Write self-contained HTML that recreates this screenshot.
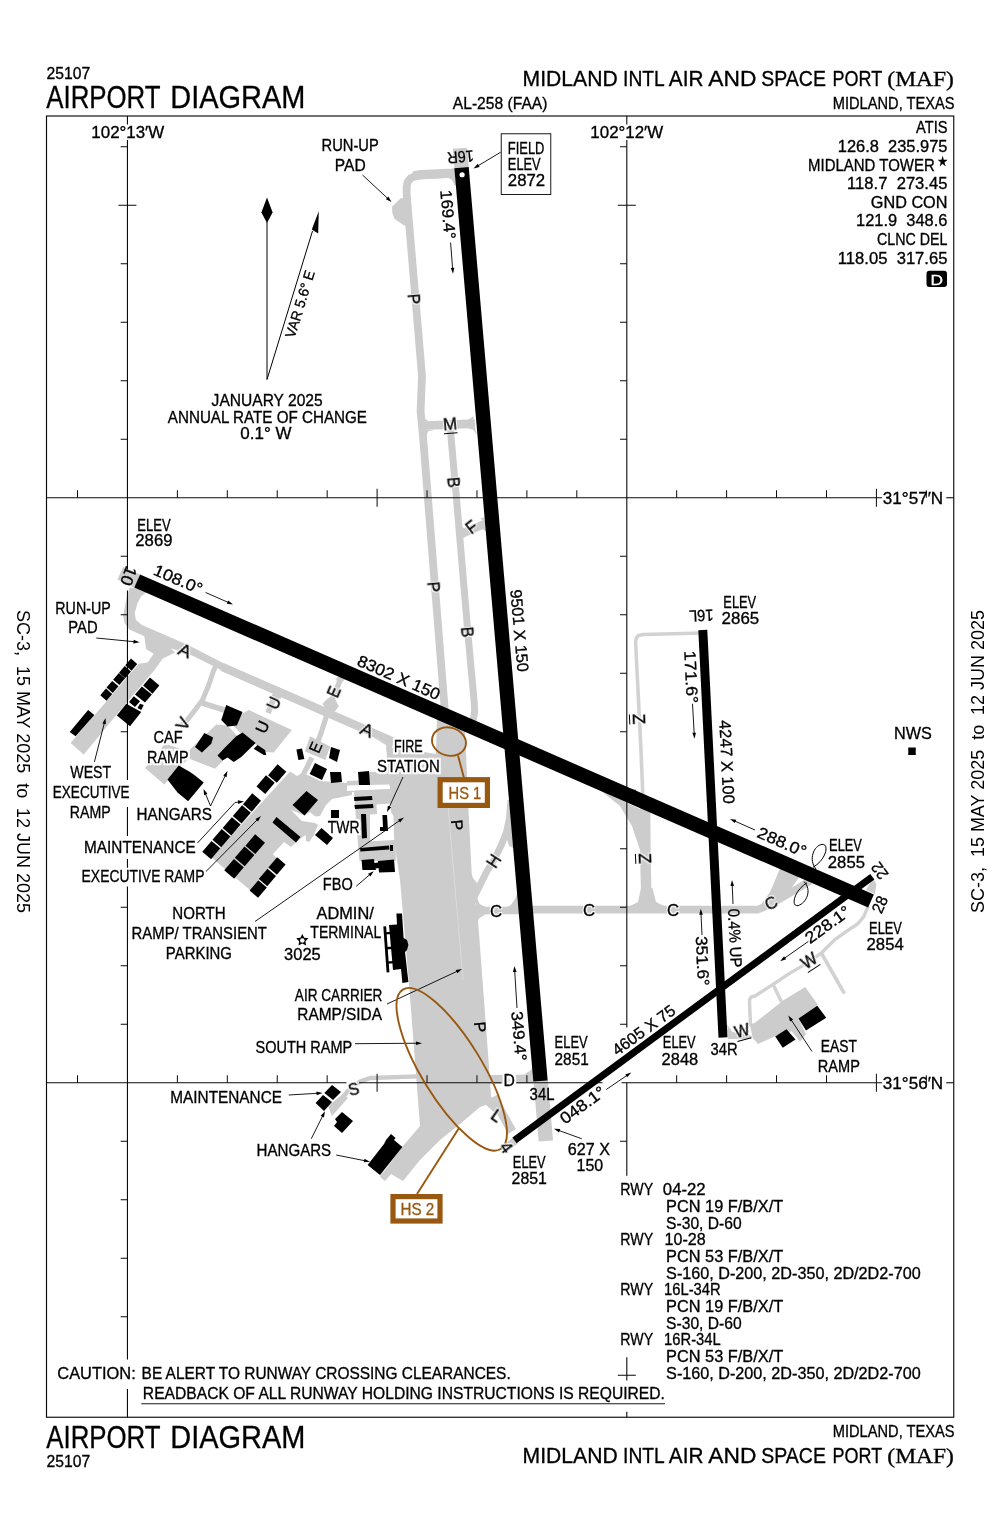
<!DOCTYPE html>
<html lang="en"><head><meta charset="utf-8"><title>MIDLAND INTL AIR AND SPACE PORT (MAF) - AIRPORT DIAGRAM</title>
<style>
html,body{margin:0;padding:0;background:#fff}
body{width:1000px;height:1533px;overflow:hidden}
svg{display:block;font-family:"Liberation Sans",sans-serif;will-change:transform}
text{white-space:pre}
</style></head><body>
<svg width="1000" height="1533" viewBox="0 0 1000 1533">
<defs>
<filter id="h3" color-interpolation-filters="sRGB" x="-30%" y="-40%" width="160%" height="180%"><feMorphology in="SourceAlpha" operator="dilate" radius="1.5" result="d"/><feFlood flood-color="#fff"/><feComposite in2="d" operator="in" result="w"/><feMerge><feMergeNode in="w"/><feMergeNode in="SourceGraphic"/></feMerge></filter>
<filter id="h2" color-interpolation-filters="sRGB" x="-60%" y="-60%" width="220%" height="220%"><feMorphology in="SourceAlpha" operator="dilate" radius="1.1" result="d"/><feFlood flood-color="#fff"/><feComposite in2="d" operator="in" result="w"/><feMerge><feMergeNode in="w"/><feMergeNode in="SourceGraphic"/></feMerge></filter>
</defs>
<rect width="1000" height="1533" fill="#fff"/>
<g id="grey">
<polygon points="452.82,148.87 454.37,168.37 468.73,167.23 467.18,147.73" fill="#cccccc"/>
<polygon points="123.12,566.88 140.25,574.62 134.62,587.75 117.50,579.38" fill="#cccccc"/>
<polygon points="533.53,1081.62 538.73,1141.62 553.07,1140.38 547.87,1080.38" fill="#cccccc"/>
<polygon points="501.50,1146.50 505.00,1153.00 518.00,1143.50 513.00,1137.50" fill="#cccccc"/>
<polygon points="873.00,878.00 876.30,884.00 875.00,894.00 866.00,890.00" fill="#cccccc"/>
<polyline points="456.00,173.60 422.00,175.30 415.00,176.20 410.50,178.30 407.60,182.00 406.60,187.00 406.70,195.00 422.00,376.00 420.60,411.00 423.30,440.00 446.78,735.00" fill="none" stroke="#cccccc" stroke-width="7.8" stroke-linejoin="round" stroke-linecap="butt"/>
<polyline points="456.00,173.00 420.00,174.70 413.50,176.00" fill="none" stroke="#cccccc" stroke-width="9.2" stroke-linejoin="round" stroke-linecap="butt"/>
<polygon points="392.12,206.50 400.62,198.25 406.88,198.12 407.50,226.25 403.75,225.25 394.50,219.00 392.12,211.88" fill="#cccccc"/>
<polygon points="455.00,168.12 450.00,169.38 449.38,178.75 451.88,179.75 454.75,185.62 456.25,186.25" fill="#cccccc"/>
<polyline points="421.50,425.70 475.00,423.60" fill="none" stroke="#cccccc" stroke-width="8.6" stroke-linejoin="round" stroke-linecap="butt"/>
<polygon points="423.12,417.50 424.00,421.25 428.75,421.25" fill="#cccccc"/>
<polygon points="426.25,436.25 428.12,431.25 433.75,430.00 425.00,429.38" fill="#cccccc"/>
<polygon points="467.50,420.25 473.12,419.75 473.50,416.25" fill="#cccccc"/>
<polygon points="467.50,428.75 473.12,429.38 476.88,435.00 475.00,427.50" fill="#cccccc"/>
<polyline points="450.40,430.00 456.60,500.00 468.50,640.00 474.30,703.00 474.60,712.00 473.20,720.00 470.00,727.00" fill="none" stroke="#cccccc" stroke-width="7.0" stroke-linejoin="round" stroke-linecap="butt"/>
<polyline points="461.00,534.30 486.00,523.30" fill="none" stroke="#cccccc" stroke-width="8.2" stroke-linejoin="round" stroke-linecap="butt"/>
<polygon points="460.88,525.00 460.88,531.25 465.00,529.38" fill="#cccccc"/>
<polygon points="463.12,540.00 463.75,536.25 470.00,533.12 463.75,533.75" fill="#cccccc"/>
<polygon points="480.00,518.75 484.38,516.88 484.00,520.62" fill="#cccccc"/>
<polygon points="480.00,528.12 486.25,531.25 485.00,525.00" fill="#cccccc"/>
<polygon points="129.38,587.75 137.50,587.75 146.50,592.00 141.25,596.25 137.50,603.12 134.75,613.12 135.88,620.00 141.88,625.00 150.00,628.50 187.50,644.75 225.00,664.00 226.25,672.50 190.00,654.38 170.00,648.12 155.00,654.38 146.00,649.00 144.38,636.25 129.38,629.62 124.38,622.75 123.25,615.00 125.38,603.75" fill="#cccccc"/>
<polyline points="222.00,666.95 300.00,700.82 420.00,753.23" fill="none" stroke="#cccccc" stroke-width="8.4" stroke-linejoin="round" stroke-linecap="butt"/>
<polygon points="374.00,738.00 386.00,745.00 388.00,760.00 388.50,776.00 392.00,776.00 392.00,745.00" fill="#cccccc"/>
<polygon points="70.62,743.12 83.75,754.38 128.75,700.00 155.00,669.38 162.50,658.75 175.00,652.50 167.50,645.00 153.75,653.75 147.50,662.50 138.75,663.75" fill="#cccccc"/>
<polyline points="216.25,665.62 213.75,670.00 208.75,685.00 202.50,700.00 195.00,710.00 186.25,721.25 180.00,726.25" fill="none" stroke="#cccccc" stroke-width="5.0" stroke-linejoin="round" stroke-linecap="butt"/>
<polyline points="202.50,703.12 225.00,710.25" fill="none" stroke="#cccccc" stroke-width="5.6" stroke-linejoin="round" stroke-linecap="butt"/>
<polygon points="211.25,662.50 215.62,668.12 221.25,666.88" fill="#cccccc"/>
<polygon points="145.00,768.12 164.38,784.38 181.88,764.38 189.38,758.75 215.00,768.75 226.25,757.50 237.50,736.25 227.50,725.62 216.25,724.38 188.12,751.25 165.00,743.75" fill="#cccccc"/>
<polyline points="276.25,691.88 268.12,713.12" fill="none" stroke="#cccccc" stroke-width="5.6" stroke-linejoin="round" stroke-linecap="butt"/>
<polygon points="271.25,688.75 273.75,695.00 270.00,698.75 281.25,698.75 279.75,693.75 282.50,693.75" fill="#cccccc"/>
<polygon points="248.75,710.00 291.88,730.00 273.75,752.50 265.00,751.88 255.00,743.75 240.00,732.50 232.50,725.00 237.50,716.25" fill="#cccccc"/>
<polyline points="341.25,677.50 330.00,705.00 321.25,732.50 317.50,742.50" fill="none" stroke="#cccccc" stroke-width="5.2" stroke-linejoin="round" stroke-linecap="butt"/>
<polyline points="311.88,757.50 303.75,773.75 300.00,778.75" fill="none" stroke="#cccccc" stroke-width="5.2" stroke-linejoin="round" stroke-linecap="butt"/>
<polygon points="310.00,736.25 330.25,746.50 325.25,760.00 305.00,751.50" fill="#cccccc"/>
<polygon points="322.50,703.75 327.50,698.75 333.12,695.00 338.75,706.25 335.00,711.25 327.50,712.50" fill="#cccccc"/>
<polygon points="336.25,677.50 346.25,677.50 340.00,685.00 337.50,687.50" fill="#cccccc"/>
<polygon points="290.00,771.50 297.00,776.00 302.00,773.00 310.00,776.00 320.00,781.00 346.00,783.00 352.00,783.00 352.00,795.00 332.00,799.00 326.00,805.00 320.00,816.00 315.00,816.50 310.00,812.00 304.50,815.50 291.00,810.00 302.00,821.00 315.00,823.00 318.00,825.00 314.00,835.00 309.00,842.00 306.00,841.00 305.50,835.00 300.00,839.00 292.00,846.00 291.00,847.00 284.00,842.00 273.00,854.00 277.00,858.50 250.00,890.00 211.50,857.50" fill="#cccccc"/>
<polygon points="369.00,772.00 390.00,771.50 390.00,785.00 347.00,786.00 347.00,781.00 358.00,780.50" fill="#cccccc"/>
<polygon points="347.00,790.50 390.00,789.00 394.00,812.00 396.00,861.00 359.50,861.00 357.50,838.00 354.00,792.00 347.00,792.40" fill="#cccccc"/>
<polygon points="437.00,716.00 465.00,729.00 466.30,760.00 468.00,800.00 472.00,880.00 478.00,920.00 484.00,1000.00 490.00,1080.00 491.00,1096.00 500.00,1116.00 494.00,1112.00 486.00,1105.00 480.00,1107.00 460.00,1124.00 440.00,1140.00 420.00,1160.00 403.00,1181.00 391.00,1174.00 385.00,1181.00 380.00,1177.00 403.00,1146.00 420.00,1126.00 416.00,1074.00 409.00,984.00 403.00,914.00 400.00,880.00 394.00,840.00 393.00,812.00 388.00,774.00 386.30,748.00 400.00,748.00 436.00,754.00" fill="#cccccc"/>
<polyline points="473.00,899.00 479.10,886.90 486.90,871.30 493.50,860.80 501.30,845.20 506.50,832.00 509.50,818.00 510.50,804.00" fill="none" stroke="#cccccc" stroke-width="6.8" stroke-linejoin="round" stroke-linecap="butt"/>
<polygon points="507.50,800.00 512.00,800.00 517.00,850.00 509.00,846.00 506.00,836.00" fill="#cccccc"/>
<polygon points="470.00,870.00 473.00,878.00 477.00,883.00 481.00,884.00 476.00,894.00 479.00,903.00 470.00,903.00" fill="#cccccc"/>
<polyline points="470.00,910.60 522.00,910.40" fill="none" stroke="#cccccc" stroke-width="7.6" stroke-linejoin="round" stroke-linecap="butt"/>
<polyline points="520.00,909.60 758.00,909.60 771.00,904.00 790.00,893.00 810.00,881.00" fill="none" stroke="#cccccc" stroke-width="7.6" stroke-linejoin="round" stroke-linecap="butt"/>
<polygon points="505.00,908.00 511.00,905.00 515.00,899.00 517.50,892.00 521.00,908.00" fill="#cccccc"/>
<polygon points="476.00,900.00 480.50,904.50 487.00,907.50 476.00,908.00" fill="#cccccc"/>
<polygon points="476.00,922.00 480.00,917.50 486.00,914.50 476.00,914.00" fill="#cccccc"/>
<polygon points="760.00,906.00 770.00,892.00 776.00,878.00 781.00,866.00 800.00,876.00 790.00,890.00" fill="#cccccc"/>
<polyline points="645.00,800.00 645.50,860.00 646.50,906.00" fill="none" stroke="#cccccc" stroke-width="10.5" stroke-linejoin="round" stroke-linecap="butt"/>
<polygon points="600.00,790.00 620.00,806.00 632.00,826.00 640.00,850.00 648.00,850.00 650.00,814.00" fill="#cccccc"/>
<polygon points="641.00,888.00 638.00,902.00 628.00,907.00 666.00,907.00 656.00,902.00 652.40,888.00" fill="#cccccc"/>
<polyline points="703.00,633.00 643.00,634.50 638.50,635.50 636.30,638.00 635.60,642.00 641.00,750.00 643.00,800.00" fill="none" stroke="#d2d2d2" stroke-width="3.6" stroke-linejoin="round" stroke-linecap="butt"/>
<polyline points="486.00,1079.60 536.00,1079.00" fill="none" stroke="#cccccc" stroke-width="9.0" stroke-linejoin="round" stroke-linecap="butt"/>
<polygon points="524.00,1075.00 531.00,1070.00 535.00,1062.00 537.00,1076.00" fill="#cccccc"/>
<polyline points="493.00,1097.00 512.00,1131.50" fill="none" stroke="#cccccc" stroke-width="9.0" stroke-linejoin="round" stroke-linecap="butt"/>
<polyline points="418.00,1076.40 370.00,1078.00 360.00,1081.60 348.00,1091.00 338.00,1103.00" fill="none" stroke="#cccccc" stroke-width="4.4" stroke-linejoin="round" stroke-linecap="butt"/>
<polygon points="328.00,1106.00 343.00,1094.00 348.00,1098.00 332.00,1116.00" fill="#cccccc"/>
<polygon points="380.00,1175.00 385.00,1180.00 391.00,1173.60 386.00,1170.00" fill="#cccccc"/>
<polyline points="868.50,906.00 867.20,908.40 863.60,916.80 857.60,924.00 846.80,931.20 834.80,939.60 821.60,952.80 806.00,963.60 788.00,974.40 770.00,986.40 755.00,996.00 751.20,997.00 749.60,999.50 749.60,1005.00 750.60,1026.00" fill="none" stroke="#d2d2d2" stroke-width="3.4" stroke-linejoin="round" stroke-linecap="butt"/>
<polyline points="821.60,953.50 844.40,993.60" fill="none" stroke="#d2d2d2" stroke-width="3.6" stroke-linejoin="round" stroke-linecap="butt"/>
<polyline points="773.60,985.50 781.50,1002.00" fill="none" stroke="#d2d2d2" stroke-width="3.4" stroke-linejoin="round" stroke-linecap="butt"/>
<polygon points="749.75,1024.50 755.00,1022.70 783.50,1000.20 805.25,987.00 817.99,1005.00 798.50,1018.50 806.00,1034.25 800.00,1041.75 791.75,1031.25 776.00,1035.75 758.00,1044.00 752.75,1038.00" fill="#cccccc"/>
<polygon points="727.25,1024.50 732.50,1032.00 752.00,1035.75 750.80,1038.75 728.00,1039.05" fill="#cccccc"/>
<line x1="447.50" y1="800.00" x2="463.00" y2="980.00" stroke="#dbdbdb" stroke-width="1"/>
</g>
<g id="roads">
<polygon points="347.00,785.60 389.20,784.40 389.20,788.20 347.00,791.00" fill="#fff"/>
<polygon points="376.50,804.50 390.50,803.50 391.20,812.00 393.50,816.00 394.20,840.00 370.00,841.20 370.00,814.50 377.00,814.00" fill="#fff"/>
</g>
<g id="grid">
<rect x="46.5" y="116.0" width="907.25" height="1301.25" fill="none" stroke="#0a0a0a" stroke-width="1.15"/>
<line x1="127.45" y1="116.00" x2="127.45" y2="124.50" stroke="#0a0a0a" stroke-width="1.1"/>
<line x1="127.45" y1="140.00" x2="127.45" y2="569.50" stroke="#0a0a0a" stroke-width="1.1"/>
<line x1="127.45" y1="590.50" x2="127.45" y2="780.00" stroke="#0a0a0a" stroke-width="1.1"/>
<line x1="127.45" y1="807.00" x2="127.45" y2="836.00" stroke="#0a0a0a" stroke-width="1.1"/>
<line x1="127.45" y1="859.00" x2="127.45" y2="868.00" stroke="#0a0a0a" stroke-width="1.1"/>
<line x1="127.45" y1="886.50" x2="127.45" y2="1359.50" stroke="#0a0a0a" stroke-width="1.1"/>
<line x1="127.45" y1="1389.00" x2="127.45" y2="1417.25" stroke="#0a0a0a" stroke-width="1.1"/>
<line x1="626.80" y1="116.00" x2="626.80" y2="124.50" stroke="#0a0a0a" stroke-width="1.1"/>
<line x1="626.80" y1="140.00" x2="626.80" y2="1027.50" stroke="#0a0a0a" stroke-width="1.1"/>
<line x1="626.80" y1="1082.75" x2="626.80" y2="1175.75" stroke="#0a0a0a" stroke-width="1.1"/>
<line x1="626.80" y1="1357.25" x2="626.80" y2="1380.50" stroke="#0a0a0a" stroke-width="1.1"/>
<line x1="626.80" y1="1411.75" x2="626.80" y2="1417.25" stroke="#0a0a0a" stroke-width="1.1"/>
<line x1="46.50" y1="497.75" x2="882.00" y2="497.75" stroke="#0a0a0a" stroke-width="1.1"/>
<line x1="946.25" y1="497.75" x2="953.75" y2="497.75" stroke="#0a0a0a" stroke-width="1.1"/>
<line x1="46.50" y1="1082.75" x2="346.50" y2="1082.75" stroke="#0a0a0a" stroke-width="1.1"/>
<line x1="359.00" y1="1082.75" x2="501.50" y2="1082.75" stroke="#0a0a0a" stroke-width="1.1"/>
<line x1="515.00" y1="1082.75" x2="602.50" y2="1082.75" stroke="#0a0a0a" stroke-width="1.1"/>
<line x1="621.50" y1="1082.75" x2="882.00" y2="1082.75" stroke="#0a0a0a" stroke-width="1.1"/>
<line x1="946.25" y1="1082.75" x2="953.75" y2="1082.75" stroke="#0a0a0a" stroke-width="1.1"/>
<line x1="77.52" y1="490.25" x2="77.52" y2="497.75" stroke="#0a0a0a" stroke-width="1"/>
<line x1="177.38" y1="490.25" x2="177.38" y2="497.75" stroke="#0a0a0a" stroke-width="1"/>
<line x1="227.31" y1="490.25" x2="227.31" y2="497.75" stroke="#0a0a0a" stroke-width="1"/>
<line x1="277.24" y1="490.25" x2="277.24" y2="497.75" stroke="#0a0a0a" stroke-width="1"/>
<line x1="327.17" y1="490.25" x2="327.17" y2="497.75" stroke="#0a0a0a" stroke-width="1"/>
<line x1="377.10" y1="488.75" x2="377.10" y2="506.75" stroke="#0a0a0a" stroke-width="1"/>
<line x1="427.03" y1="490.25" x2="427.03" y2="497.75" stroke="#0a0a0a" stroke-width="1"/>
<line x1="476.96" y1="490.25" x2="476.96" y2="497.75" stroke="#0a0a0a" stroke-width="1"/>
<line x1="526.89" y1="490.25" x2="526.89" y2="497.75" stroke="#0a0a0a" stroke-width="1"/>
<line x1="576.82" y1="490.25" x2="576.82" y2="497.75" stroke="#0a0a0a" stroke-width="1"/>
<line x1="676.68" y1="490.25" x2="676.68" y2="497.75" stroke="#0a0a0a" stroke-width="1"/>
<line x1="726.61" y1="490.25" x2="726.61" y2="497.75" stroke="#0a0a0a" stroke-width="1"/>
<line x1="776.54" y1="490.25" x2="776.54" y2="497.75" stroke="#0a0a0a" stroke-width="1"/>
<line x1="826.47" y1="490.25" x2="826.47" y2="497.75" stroke="#0a0a0a" stroke-width="1"/>
<line x1="876.40" y1="488.75" x2="876.40" y2="506.75" stroke="#0a0a0a" stroke-width="1"/>
<line x1="926.33" y1="490.25" x2="926.33" y2="497.75" stroke="#0a0a0a" stroke-width="1"/>
<line x1="77.52" y1="1075.25" x2="77.52" y2="1082.75" stroke="#0a0a0a" stroke-width="1"/>
<line x1="177.38" y1="1075.25" x2="177.38" y2="1082.75" stroke="#0a0a0a" stroke-width="1"/>
<line x1="227.31" y1="1075.25" x2="227.31" y2="1082.75" stroke="#0a0a0a" stroke-width="1"/>
<line x1="277.24" y1="1075.25" x2="277.24" y2="1082.75" stroke="#0a0a0a" stroke-width="1"/>
<line x1="327.17" y1="1075.25" x2="327.17" y2="1082.75" stroke="#0a0a0a" stroke-width="1"/>
<line x1="377.10" y1="1073.75" x2="377.10" y2="1091.75" stroke="#0a0a0a" stroke-width="1"/>
<line x1="427.03" y1="1075.25" x2="427.03" y2="1082.75" stroke="#0a0a0a" stroke-width="1"/>
<line x1="476.96" y1="1075.25" x2="476.96" y2="1082.75" stroke="#0a0a0a" stroke-width="1"/>
<line x1="526.89" y1="1075.25" x2="526.89" y2="1082.75" stroke="#0a0a0a" stroke-width="1"/>
<line x1="676.68" y1="1075.25" x2="676.68" y2="1082.75" stroke="#0a0a0a" stroke-width="1"/>
<line x1="726.61" y1="1075.25" x2="726.61" y2="1082.75" stroke="#0a0a0a" stroke-width="1"/>
<line x1="776.54" y1="1075.25" x2="776.54" y2="1082.75" stroke="#0a0a0a" stroke-width="1"/>
<line x1="826.47" y1="1075.25" x2="826.47" y2="1082.75" stroke="#0a0a0a" stroke-width="1"/>
<line x1="876.40" y1="1073.75" x2="876.40" y2="1091.75" stroke="#0a0a0a" stroke-width="1"/>
<line x1="926.33" y1="1075.25" x2="926.33" y2="1082.75" stroke="#0a0a0a" stroke-width="1"/>
<line x1="120.70" y1="146.75" x2="127.45" y2="146.75" stroke="#0a0a0a" stroke-width="1"/>
<line x1="118.45" y1="205.25" x2="136.45" y2="205.25" stroke="#0a0a0a" stroke-width="1"/>
<line x1="120.70" y1="263.75" x2="127.45" y2="263.75" stroke="#0a0a0a" stroke-width="1"/>
<line x1="120.70" y1="322.25" x2="127.45" y2="322.25" stroke="#0a0a0a" stroke-width="1"/>
<line x1="120.70" y1="380.75" x2="127.45" y2="380.75" stroke="#0a0a0a" stroke-width="1"/>
<line x1="120.70" y1="439.25" x2="127.45" y2="439.25" stroke="#0a0a0a" stroke-width="1"/>
<line x1="120.70" y1="556.25" x2="127.45" y2="556.25" stroke="#0a0a0a" stroke-width="1"/>
<line x1="120.70" y1="614.75" x2="127.45" y2="614.75" stroke="#0a0a0a" stroke-width="1"/>
<line x1="120.70" y1="731.75" x2="127.45" y2="731.75" stroke="#0a0a0a" stroke-width="1"/>
<line x1="120.70" y1="907.25" x2="127.45" y2="907.25" stroke="#0a0a0a" stroke-width="1"/>
<line x1="120.70" y1="965.75" x2="127.45" y2="965.75" stroke="#0a0a0a" stroke-width="1"/>
<line x1="120.70" y1="1024.25" x2="127.45" y2="1024.25" stroke="#0a0a0a" stroke-width="1"/>
<line x1="120.70" y1="1141.25" x2="127.45" y2="1141.25" stroke="#0a0a0a" stroke-width="1"/>
<line x1="120.70" y1="1199.75" x2="127.45" y2="1199.75" stroke="#0a0a0a" stroke-width="1"/>
<line x1="120.70" y1="1258.25" x2="127.45" y2="1258.25" stroke="#0a0a0a" stroke-width="1"/>
<line x1="120.70" y1="1316.75" x2="127.45" y2="1316.75" stroke="#0a0a0a" stroke-width="1"/>
<line x1="620.05" y1="146.75" x2="626.80" y2="146.75" stroke="#0a0a0a" stroke-width="1"/>
<line x1="617.80" y1="205.25" x2="635.80" y2="205.25" stroke="#0a0a0a" stroke-width="1"/>
<line x1="620.05" y1="263.75" x2="626.80" y2="263.75" stroke="#0a0a0a" stroke-width="1"/>
<line x1="620.05" y1="322.25" x2="626.80" y2="322.25" stroke="#0a0a0a" stroke-width="1"/>
<line x1="620.05" y1="380.75" x2="626.80" y2="380.75" stroke="#0a0a0a" stroke-width="1"/>
<line x1="620.05" y1="439.25" x2="626.80" y2="439.25" stroke="#0a0a0a" stroke-width="1"/>
<line x1="620.05" y1="556.25" x2="626.80" y2="556.25" stroke="#0a0a0a" stroke-width="1"/>
<line x1="620.05" y1="614.75" x2="626.80" y2="614.75" stroke="#0a0a0a" stroke-width="1"/>
<line x1="620.05" y1="673.25" x2="626.80" y2="673.25" stroke="#0a0a0a" stroke-width="1"/>
<line x1="620.05" y1="731.75" x2="626.80" y2="731.75" stroke="#0a0a0a" stroke-width="1"/>
<line x1="617.80" y1="790.25" x2="635.80" y2="790.25" stroke="#0a0a0a" stroke-width="1"/>
<line x1="620.05" y1="848.75" x2="626.80" y2="848.75" stroke="#0a0a0a" stroke-width="1"/>
<line x1="620.05" y1="907.25" x2="626.80" y2="907.25" stroke="#0a0a0a" stroke-width="1"/>
<line x1="620.05" y1="965.75" x2="626.80" y2="965.75" stroke="#0a0a0a" stroke-width="1"/>
<line x1="620.05" y1="1024.25" x2="626.80" y2="1024.25" stroke="#0a0a0a" stroke-width="1"/>
<line x1="620.05" y1="1141.25" x2="626.80" y2="1141.25" stroke="#0a0a0a" stroke-width="1"/>
<line x1="617.80" y1="1375.25" x2="635.80" y2="1375.25" stroke="#0a0a0a" stroke-width="1"/>
</g>
<g id="rwy">
<polygon points="454.38,168.22 533.33,1081.62 547.67,1080.38 468.72,166.98" fill="#000"/>
<polygon points="134.32,587.60 868.12,907.60 873.88,894.40 140.08,574.40" fill="#000"/>
<polygon points="698.31,630.22 718.51,1037.72 727.49,1037.28 707.29,629.78" fill="#000"/>
<polygon points="516.58,1143.22 874.38,879.62 870.22,873.98 512.42,1137.58" fill="#000"/>
<circle cx="462.1" cy="174.75" r="2.6" fill="#fff"/>
</g>
<g id="bldg">
<rect x="-4.38" y="-4.12" width="8.75" height="8.25" fill="#000" transform="translate(131.25,664.62) rotate(-49.40)"/>
<rect x="-4.38" y="-4.12" width="8.75" height="8.25" fill="#000" transform="translate(125.00,672.12) rotate(-49.40)"/>
<rect x="-4.38" y="-4.12" width="8.75" height="8.25" fill="#000" transform="translate(119.12,679.00) rotate(-49.40)"/>
<rect x="-4.38" y="-4.12" width="8.75" height="8.25" fill="#000" transform="translate(112.50,686.88) rotate(-49.40)"/>
<rect x="-4.38" y="-4.12" width="8.75" height="8.25" fill="#000" transform="translate(106.25,694.62) rotate(-49.40)"/>
<polygon points="88.12,710.00 94.38,715.00 75.62,736.25 69.75,731.88" fill="#000"/>
<polygon points="150.00,677.50 159.38,685.62 152.50,693.75 143.12,685.62" fill="#000"/>
<polygon points="141.88,686.50 151.88,694.38 145.00,702.50 135.00,694.38" fill="#000"/>
<polygon points="133.75,696.25 140.00,701.25 135.00,706.88 129.00,701.88" fill="#000"/>
<polygon points="126.25,703.75 141.25,711.88 130.00,726.25 116.88,715.62" fill="#000"/>
<polygon points="140.00,703.75 143.75,705.00 141.25,710.00 137.50,708.12" fill="#000"/>
<polygon points="226.25,705.00 242.50,711.88 236.88,725.62 227.50,726.50 221.25,720.00" fill="#000"/>
<polygon points="204.38,733.12 213.12,737.50 211.25,743.75 201.88,752.50 195.00,746.88" fill="#000"/>
<polygon points="242.50,732.50 255.62,743.12 241.25,756.88 233.75,761.88 227.50,757.50 222.50,760.62 217.50,755.62 225.00,747.50 236.25,736.25" fill="#000"/>
<polygon points="178.75,765.62 190.00,771.88 194.38,775.00 203.75,782.50 188.12,801.25 177.50,792.50 167.50,779.38" fill="#000"/>
<polygon points="257.50,745.00 265.00,750.00 266.25,755.00 263.75,755.00 253.75,748.75" fill="#000"/>
<polygon points="296.40,749.60 302.00,748.40 304.40,759.00 298.40,760.00" fill="#000"/>
<polygon points="331.00,747.00 340.00,750.00 337.00,762.00 329.00,758.00" fill="#000"/>
<polygon points="315.00,763.00 327.00,769.00 322.00,780.00 309.60,774.00" fill="#000"/>
<polygon points="330.00,772.00 341.00,772.00 342.00,782.00 331.00,783.00" fill="#000"/>
<polygon points="358.00,772.00 369.00,771.00 370.00,785.00 359.00,785.00" fill="#000"/>
<rect x="-7.30" y="-5.75" width="14.60" height="11.50" fill="#000" transform="translate(277.20,773.50) rotate(-49.40)"/>
<rect x="-7.30" y="-5.75" width="14.60" height="11.50" fill="#000" transform="translate(265.60,784.60) rotate(-49.40)"/>
<rect x="-7.10" y="-5.75" width="14.20" height="11.50" fill="#000" transform="translate(252.00,802.50) rotate(-49.40)"/>
<rect x="-7.10" y="-5.75" width="14.20" height="11.50" fill="#000" transform="translate(241.82,814.38) rotate(-49.40)"/>
<rect x="-7.10" y="-5.75" width="14.20" height="11.50" fill="#000" transform="translate(231.64,826.26) rotate(-49.40)"/>
<rect x="-7.10" y="-5.75" width="14.20" height="11.50" fill="#000" transform="translate(221.46,838.14) rotate(-49.40)"/>
<rect x="-7.10" y="-5.75" width="14.20" height="11.50" fill="#000" transform="translate(211.28,850.02) rotate(-49.40)"/>
<polygon points="306.50,791.00 318.00,800.00 304.50,815.50 292.50,805.00" fill="#000"/>
<polygon points="276.50,817.00 300.50,837.00 296.00,842.50 272.50,822.50" fill="#000"/>
<polygon points="321.50,828.00 333.00,838.00 327.00,845.00 315.00,835.00" fill="#000"/>
<rect x="-7.45" y="-6.50" width="14.90" height="13.00" fill="#000" transform="translate(255.20,844.20) rotate(-49.40)"/>
<rect x="-7.45" y="-6.50" width="14.90" height="13.00" fill="#000" transform="translate(244.60,856.40) rotate(-49.40)"/>
<rect x="-7.45" y="-6.50" width="14.90" height="13.00" fill="#000" transform="translate(234.00,868.80) rotate(-49.40)"/>
<rect x="-6.75" y="-5.60" width="13.50" height="11.20" fill="#000" transform="translate(277.00,866.00) rotate(-49.40)"/>
<rect x="-6.75" y="-5.60" width="13.50" height="11.20" fill="#000" transform="translate(267.40,877.40) rotate(-49.40)"/>
<rect x="-6.75" y="-5.60" width="13.50" height="11.20" fill="#000" transform="translate(258.20,889.00) rotate(-49.40)"/>
<polygon points="331.00,810.00 339.00,810.00 339.00,818.00 331.00,818.00" fill="#000"/>
<polygon points="354.00,797.00 372.00,796.00 372.40,800.00 354.40,801.00" fill="#000"/>
<polygon points="354.40,805.00 373.00,804.00 373.40,808.00 355.00,809.00" fill="#000"/>
<polygon points="361.00,814.00 366.00,814.00 367.00,838.00 362.00,838.40" fill="#000"/>
<polygon points="382.40,815.00 387.00,815.00 388.00,831.00 380.00,831.00 380.00,827.00 383.00,827.00" fill="#000"/>
<polygon points="360.00,848.00 389.00,845.60 389.40,849.60 360.40,851.60" fill="#000"/>
<polygon points="390.00,845.00 393.00,845.00 393.00,851.00 390.00,851.00" fill="#000"/>
<polygon points="361.60,860.00 374.00,859.00 374.40,863.00 378.00,862.40 378.00,861.00 394.00,859.60 395.00,872.00 379.00,872.40 378.60,868.00 375.60,868.40 376.00,870.00 362.40,870.00" fill="#000"/>
<polygon points="396.40,913.60 402.00,913.60 403.60,938.00 407.00,940.00 408.40,945.00 407.00,950.00 405.00,952.00 408.40,982.00 402.40,983.00 401.00,969.00 393.00,970.00 389.00,925.00 397.00,924.40" fill="#000"/>
<g stroke="#000" fill="none" stroke-width="1.6">
<line x1="384.70" y1="926.40" x2="388.00" y2="972.40" stroke="#000" stroke-width="2.8"/>
<line x1="385.00" y1="933.40" x2="392.00" y2="932.90" stroke="#000" stroke-width="2.4"/>
<line x1="386.00" y1="948.20" x2="393.00" y2="947.70" stroke="#000" stroke-width="2.4"/>
<line x1="387.00" y1="962.60" x2="394.00" y2="962.10" stroke="#000" stroke-width="2.4"/>
</g>
<polygon points="332.00,1085.00 341.00,1092.00 333.00,1100.00 324.40,1093.00" fill="#000"/>
<polygon points="323.00,1095.00 332.00,1102.00 324.00,1111.00 315.60,1103.00" fill="#000"/>
<polygon points="342.00,1112.00 353.00,1121.00 342.00,1133.00 334.00,1126.00 337.00,1122.00 335.00,1119.00" fill="#000"/>
<polygon points="391.00,1134.00 395.60,1138.00 394.00,1140.00 402.40,1147.00 380.00,1175.00 367.60,1165.00 384.00,1144.00 386.00,1140.00" fill="#000"/>
<polygon points="817.24,1005.75 826.24,1017.75 806.00,1030.50 798.50,1018.50" fill="#000"/>
<polygon points="786.50,1029.30 795.50,1039.50 782.75,1047.75 775.25,1036.50" fill="#000"/>
<rect x="908.25" y="747.5" width="7.5" height="7.5" fill="#000"/>
</g>
<g id="hdr">
<text x="46.60" y="78.75" font-size="16.3" textLength="43.60" lengthAdjust="spacingAndGlyphs" fill="#000" stroke="#000" stroke-width="0.32">25107</text>
<text x="46.26" y="108.00" font-size="31.6" textLength="114.30" lengthAdjust="spacingAndGlyphs" fill="#000" stroke="#000" stroke-width="0.32">AIRPORT</text>
<text x="170.26" y="108.00" font-size="31.6" textLength="135.10" lengthAdjust="spacingAndGlyphs" fill="#000" stroke="#000" stroke-width="0.32">DIAGRAM</text>
<text x="452.81" y="108.50" font-size="17" textLength="94.67" lengthAdjust="spacingAndGlyphs" fill="#000" stroke="#000" stroke-width="0.32">AL-258 (FAA)</text>
<text x="522.55" y="86.25" font-size="21.8" textLength="95.14" lengthAdjust="spacingAndGlyphs" fill="#000" stroke="#000" stroke-width="0.32">MIDLAND</text>
<text x="623.05" y="86.25" font-size="21.8" textLength="41.64" lengthAdjust="spacingAndGlyphs" fill="#000" stroke="#000" stroke-width="0.32">INTL</text>
<text x="668.80" y="86.25" font-size="21.8" textLength="34.64" lengthAdjust="spacingAndGlyphs" fill="#000" stroke="#000" stroke-width="0.32">AIR</text>
<text x="708.30" y="86.25" font-size="21.8" textLength="48.14" lengthAdjust="spacingAndGlyphs" fill="#000" stroke="#000" stroke-width="0.32">AND</text>
<text x="761.30" y="86.25" font-size="21.8" textLength="64.64" lengthAdjust="spacingAndGlyphs" fill="#000" stroke="#000" stroke-width="0.32">SPACE</text>
<text x="832.55" y="86.25" font-size="21.8" textLength="49.64" lengthAdjust="spacingAndGlyphs" fill="#000" stroke="#000" stroke-width="0.32">PORT</text>
<text x="887.30" y="86.25" font-size="21.8" textLength="66.64" lengthAdjust="spacingAndGlyphs" font-family='"Liberation Serif", serif' fill="#000" stroke="#000" stroke-width="0.32">(MAF)</text>
<text x="832.81" y="108.75" font-size="17" textLength="121.67" lengthAdjust="spacingAndGlyphs" fill="#000" stroke="#000" stroke-width="0.32">MIDLAND, TEXAS</text>
<text x="46.26" y="1448.00" font-size="31.6" textLength="114.30" lengthAdjust="spacingAndGlyphs" fill="#000" stroke="#000" stroke-width="0.32">AIRPORT</text>
<text x="170.26" y="1448.00" font-size="31.6" textLength="135.10" lengthAdjust="spacingAndGlyphs" fill="#000" stroke="#000" stroke-width="0.32">DIAGRAM</text>
<text x="46.60" y="1466.75" font-size="16.3" textLength="43.60" lengthAdjust="spacingAndGlyphs" fill="#000" stroke="#000" stroke-width="0.32">25107</text>
<text x="832.81" y="1436.75" font-size="17" textLength="121.67" lengthAdjust="spacingAndGlyphs" fill="#000" stroke="#000" stroke-width="0.32">MIDLAND, TEXAS</text>
<text x="522.55" y="1463.00" font-size="21.8" textLength="95.14" lengthAdjust="spacingAndGlyphs" fill="#000" stroke="#000" stroke-width="0.32">MIDLAND</text>
<text x="623.05" y="1463.00" font-size="21.8" textLength="41.64" lengthAdjust="spacingAndGlyphs" fill="#000" stroke="#000" stroke-width="0.32">INTL</text>
<text x="668.80" y="1463.00" font-size="21.8" textLength="34.64" lengthAdjust="spacingAndGlyphs" fill="#000" stroke="#000" stroke-width="0.32">AIR</text>
<text x="708.30" y="1463.00" font-size="21.8" textLength="48.14" lengthAdjust="spacingAndGlyphs" fill="#000" stroke="#000" stroke-width="0.32">AND</text>
<text x="761.30" y="1463.00" font-size="21.8" textLength="64.64" lengthAdjust="spacingAndGlyphs" fill="#000" stroke="#000" stroke-width="0.32">SPACE</text>
<text x="832.55" y="1463.00" font-size="21.8" textLength="49.64" lengthAdjust="spacingAndGlyphs" fill="#000" stroke="#000" stroke-width="0.32">PORT</text>
<text x="887.30" y="1463.00" font-size="21.8" textLength="66.64" lengthAdjust="spacingAndGlyphs" font-family='"Liberation Serif", serif' fill="#000" stroke="#000" stroke-width="0.32">(MAF)</text>
</g>
<g id="comm">
<text x="916.10" y="133.00" font-size="16.3" textLength="31.35" lengthAdjust="spacingAndGlyphs" fill="#000" stroke="#000" stroke-width="0.32">ATIS</text>
<text x="837.85" y="151.75" font-size="16.3" textLength="109.60" lengthAdjust="spacingAndGlyphs" fill="#000" stroke="#000" stroke-width="0.32">126.8  235.975</text>
<text x="808.10" y="170.50" font-size="16.3" textLength="126.60" lengthAdjust="spacingAndGlyphs" fill="#000" stroke="#000" stroke-width="0.32">MIDLAND TOWER</text>
<text x="847.10" y="189.00" font-size="16.3" textLength="100.35" lengthAdjust="spacingAndGlyphs" fill="#000" stroke="#000" stroke-width="0.32">118.7  273.45</text>
<text x="870.85" y="207.50" font-size="16.3" textLength="76.60" lengthAdjust="spacingAndGlyphs" fill="#000" stroke="#000" stroke-width="0.32">GND CON</text>
<text x="856.10" y="226.25" font-size="16.3" textLength="91.35" lengthAdjust="spacingAndGlyphs" fill="#000" stroke="#000" stroke-width="0.32">121.9  348.6</text>
<text x="877.10" y="245.00" font-size="16.3" textLength="70.35" lengthAdjust="spacingAndGlyphs" fill="#000" stroke="#000" stroke-width="0.32">CLNC DEL</text>
<text x="837.85" y="263.75" font-size="16.3" textLength="109.60" lengthAdjust="spacingAndGlyphs" fill="#000" stroke="#000" stroke-width="0.32">118.05  317.65</text>
<text x="937.55" y="165.60" font-size="13.5" textLength="10.33" lengthAdjust="spacingAndGlyphs" font-family='"DejaVu Sans", sans-serif' fill="#000" stroke="#000" stroke-width="0.32">★</text>
<rect x="926.5" y="270.75" width="20.5" height="16.25" rx="3" fill="#000"/>
<text x="930.64" y="284.50" font-size="15.5" textLength="12.52" lengthAdjust="spacingAndGlyphs" fill="#fff" stroke="#fff" stroke-width="0.32">D</text>
</g>
<g id="labels">
<text x="590.35" y="138.00" font-size="16.3" textLength="72.85" lengthAdjust="spacingAndGlyphs" fill="#000" stroke="#000" stroke-width="0.32">102°12′W</text>
<text x="91.35" y="138.00" font-size="16.3" textLength="72.85" lengthAdjust="spacingAndGlyphs" fill="#000" stroke="#000" stroke-width="0.32">102°13′W</text>
<text x="882.85" y="503.75" font-size="16.3" textLength="60.35" lengthAdjust="spacingAndGlyphs" fill="#000" stroke="#000" stroke-width="0.32">31°57′N</text>
<text x="882.85" y="1089.00" font-size="16.3" textLength="60.35" lengthAdjust="spacingAndGlyphs" fill="#000" stroke="#000" stroke-width="0.32">31°56′N</text>
<rect x="501.25" y="133.75" width="49.5" height="60.75" fill="#fff" stroke="#1a1a1a" stroke-width="1"/>
<text x="507.85" y="153.75" font-size="16.3" textLength="36.60" lengthAdjust="spacingAndGlyphs" fill="#000" stroke="#000" stroke-width="0.32">FIELD</text>
<text x="507.85" y="170.00" font-size="16.3" textLength="32.85" lengthAdjust="spacingAndGlyphs" fill="#000" stroke="#000" stroke-width="0.32">ELEV</text>
<text x="507.85" y="186.25" font-size="16.3" textLength="37.35" lengthAdjust="spacingAndGlyphs" fill="#000" stroke="#000" stroke-width="0.32">2872</text>
<text x="211.60" y="406.25" font-size="16.3" textLength="111.10" lengthAdjust="spacingAndGlyphs" fill="#000" stroke="#000" stroke-width="0.32">JANUARY 2025</text>
<text x="167.85" y="423.00" font-size="16.3" textLength="199.10" lengthAdjust="spacingAndGlyphs" fill="#000" stroke="#000" stroke-width="0.32">ANNUAL RATE OF CHANGE</text>
<text x="240.35" y="438.75" font-size="16.3" textLength="51.10" lengthAdjust="spacingAndGlyphs" fill="#000" stroke="#000" stroke-width="0.32">0.1° W</text>
<text x="321.60" y="150.50" font-size="16.3" textLength="57.10" lengthAdjust="spacingAndGlyphs" fill="#000" stroke="#000" stroke-width="0.32">RUN-UP</text>
<text x="334.85" y="170.75" font-size="16.3" textLength="30.85" lengthAdjust="spacingAndGlyphs" fill="#000" stroke="#000" stroke-width="0.32">PAD</text>
<text x="137.35" y="530.50" font-size="16.3" textLength="33.35" lengthAdjust="spacingAndGlyphs" fill="#000" stroke="#000" stroke-width="0.32">ELEV</text>
<text x="135.35" y="546.25" font-size="16.3" textLength="37.10" lengthAdjust="spacingAndGlyphs" fill="#000" stroke="#000" stroke-width="0.32">2869</text>
<text x="55.35" y="614.25" font-size="16.3" textLength="55.35" lengthAdjust="spacingAndGlyphs" fill="#000" stroke="#000" stroke-width="0.32">RUN-UP</text>
<text x="68.35" y="633.25" font-size="16.3" textLength="29.35" lengthAdjust="spacingAndGlyphs" fill="#000" stroke="#000" stroke-width="0.32">PAD</text>
<text x="723.35" y="608.00" font-size="16.3" textLength="32.85" lengthAdjust="spacingAndGlyphs" fill="#000" stroke="#000" stroke-width="0.32">ELEV</text>
<text x="721.60" y="624.25" font-size="16.3" textLength="37.60" lengthAdjust="spacingAndGlyphs" fill="#000" stroke="#000" stroke-width="0.32">2865</text>
<text x="894.10" y="738.75" font-size="16.3" textLength="37.85" lengthAdjust="spacingAndGlyphs" fill="#000" stroke="#000" stroke-width="0.32">NWS</text>
<text x="829.10" y="851.25" font-size="16.3" textLength="32.85" lengthAdjust="spacingAndGlyphs" fill="#000" stroke="#000" stroke-width="0.32">ELEV</text>
<text x="827.85" y="867.50" font-size="16.3" textLength="37.10" lengthAdjust="spacingAndGlyphs" fill="#000" stroke="#000" stroke-width="0.32">2855</text>
<text x="869.10" y="933.75" font-size="16.3" textLength="32.85" lengthAdjust="spacingAndGlyphs" fill="#000" stroke="#000" stroke-width="0.32">ELEV</text>
<text x="866.60" y="950.00" font-size="16.3" textLength="37.10" lengthAdjust="spacingAndGlyphs" fill="#000" stroke="#000" stroke-width="0.32">2854</text>
<text x="554.60" y="1047.50" font-size="16.3" textLength="33.10" lengthAdjust="spacingAndGlyphs" fill="#000" stroke="#000" stroke-width="0.32">ELEV</text>
<text x="554.60" y="1064.50" font-size="16.3" textLength="34.10" lengthAdjust="spacingAndGlyphs" fill="#000" stroke="#000" stroke-width="0.32">2851</text>
<text x="662.85" y="1047.50" font-size="16.3" textLength="32.85" lengthAdjust="spacingAndGlyphs" fill="#000" stroke="#000" stroke-width="0.32">ELEV</text>
<text x="661.60" y="1064.50" font-size="16.3" textLength="36.60" lengthAdjust="spacingAndGlyphs" fill="#000" stroke="#000" stroke-width="0.32">2848</text>
<text x="512.85" y="1167.50" font-size="16.3" textLength="32.85" lengthAdjust="spacingAndGlyphs" fill="#000" stroke="#000" stroke-width="0.32">ELEV</text>
<text x="511.60" y="1183.75" font-size="16.3" textLength="35.35" lengthAdjust="spacingAndGlyphs" fill="#000" stroke="#000" stroke-width="0.32">2851</text>
<text x="567.85" y="1155.00" font-size="16.3" textLength="42.10" lengthAdjust="spacingAndGlyphs" fill="#000" stroke="#000" stroke-width="0.32">627 X</text>
<text x="576.60" y="1171.25" font-size="16.3" textLength="26.60" lengthAdjust="spacingAndGlyphs" fill="#000" stroke="#000" stroke-width="0.32">150</text>
<text x="529.60" y="1099.50" font-size="16.3" textLength="24.85" lengthAdjust="spacingAndGlyphs" fill="#000" stroke="#000" stroke-width="0.32">34L</text>
<text x="170.35" y="1102.50" font-size="16.3" textLength="111.60" lengthAdjust="spacingAndGlyphs" fill="#000" stroke="#000" stroke-width="0.32">MAINTENANCE</text>
<text x="256.60" y="1156.25" font-size="16.3" textLength="74.60" lengthAdjust="spacingAndGlyphs" fill="#000" stroke="#000" stroke-width="0.32">HANGARS</text>
<text x="817.85" y="1071.75" font-size="16.3" textLength="42.10" lengthAdjust="spacingAndGlyphs" fill="#000" stroke="#000" stroke-width="0.32">RAMP</text>
<text x="820.85" y="1051.80" font-size="16.3" textLength="36.10" lengthAdjust="spacingAndGlyphs" fill="#000" stroke="#000" stroke-width="0.32">EAST</text>
</g>
<g id="rwytxt">
<text x="620.35" y="1195.25" font-size="16.3" textLength="32.85" lengthAdjust="spacingAndGlyphs" fill="#000" stroke="#000" stroke-width="0.32">RWY</text>
<text x="662.85" y="1195.25" font-size="16.3" textLength="42.85" lengthAdjust="spacingAndGlyphs" fill="#000" stroke="#000" stroke-width="0.32">04-22</text>
<text x="666.10" y="1211.93" font-size="16.3" textLength="117.10" lengthAdjust="spacingAndGlyphs" fill="#000" stroke="#000" stroke-width="0.32">PCN 19 F/B/X/T</text>
<text x="666.10" y="1228.61" font-size="16.3" textLength="75.60" lengthAdjust="spacingAndGlyphs" fill="#000" stroke="#000" stroke-width="0.32">S-30, D-60</text>
<text x="620.35" y="1245.29" font-size="16.3" textLength="32.85" lengthAdjust="spacingAndGlyphs" fill="#000" stroke="#000" stroke-width="0.32">RWY</text>
<text x="664.60" y="1245.29" font-size="16.3" textLength="41.10" lengthAdjust="spacingAndGlyphs" fill="#000" stroke="#000" stroke-width="0.32">10-28</text>
<text x="666.10" y="1261.97" font-size="16.3" textLength="117.10" lengthAdjust="spacingAndGlyphs" fill="#000" stroke="#000" stroke-width="0.32">PCN 53 F/B/X/T</text>
<text x="666.10" y="1278.65" font-size="16.3" textLength="254.60" lengthAdjust="spacingAndGlyphs" fill="#000" stroke="#000" stroke-width="0.32">S-160, D-200, 2D-350, 2D/2D2-700</text>
<text x="620.35" y="1295.33" font-size="16.3" textLength="32.85" lengthAdjust="spacingAndGlyphs" fill="#000" stroke="#000" stroke-width="0.32">RWY</text>
<text x="664.10" y="1295.33" font-size="16.3" textLength="56.60" lengthAdjust="spacingAndGlyphs" fill="#000" stroke="#000" stroke-width="0.32">16L-34R</text>
<text x="666.10" y="1312.01" font-size="16.3" textLength="117.10" lengthAdjust="spacingAndGlyphs" fill="#000" stroke="#000" stroke-width="0.32">PCN 19 F/B/X/T</text>
<text x="666.10" y="1328.69" font-size="16.3" textLength="75.60" lengthAdjust="spacingAndGlyphs" fill="#000" stroke="#000" stroke-width="0.32">S-30, D-60</text>
<text x="620.35" y="1345.37" font-size="16.3" textLength="32.85" lengthAdjust="spacingAndGlyphs" fill="#000" stroke="#000" stroke-width="0.32">RWY</text>
<text x="664.10" y="1345.37" font-size="16.3" textLength="56.60" lengthAdjust="spacingAndGlyphs" fill="#000" stroke="#000" stroke-width="0.32">16R-34L</text>
<text x="666.10" y="1362.05" font-size="16.3" textLength="117.10" lengthAdjust="spacingAndGlyphs" fill="#000" stroke="#000" stroke-width="0.32">PCN 53 F/B/X/T</text>
<text x="666.10" y="1378.73" font-size="16.3" textLength="254.60" lengthAdjust="spacingAndGlyphs" fill="#000" stroke="#000" stroke-width="0.32">S-160, D-200, 2D-350, 2D/2D2-700</text>
</g>
<g id="caution">
<text x="57.35" y="1379.25" font-size="16.3" textLength="78.35" lengthAdjust="spacingAndGlyphs" fill="#000" stroke="#000" stroke-width="0.32">CAUTION:</text>
<text x="141.60" y="1379.25" font-size="16.3" textLength="369.10" lengthAdjust="spacingAndGlyphs" fill="#000" stroke="#000" stroke-width="0.32">BE ALERT TO RUNWAY CROSSING CLEARANCES.</text>
<text x="142.85" y="1398.75" font-size="16.3" textLength="522.10" lengthAdjust="spacingAndGlyphs" fill="#000" stroke="#000" stroke-width="0.32">READBACK OF ALL RUNWAY HOLDING INSTRUCTIONS IS REQUIRED.</text>
<line x1="141.25" y1="1403.75" x2="665.00" y2="1403.75" stroke="#1a1a1a" stroke-width="1"/>
</g>
<g id="side">
<text transform="translate(16.5,610) rotate(90)" x="0" y="0" font-size="19" textLength="303" lengthAdjust="spacingAndGlyphs">SC-3,  15 MAY 2025  to  12 JUN 2025</text>
<text transform="translate(983.5,913) rotate(-90)" x="0" y="0" font-size="19" textLength="303" lengthAdjust="spacingAndGlyphs">SC-3,  15 MAY 2025  to  12 JUN 2025</text>
</g>
<g id="aptlabels">
<text transform="translate(460.60,156.90) rotate(175.00)" x="-13.30" y="5.61" font-size="16.3" textLength="26.60" lengthAdjust="spacingAndGlyphs" fill="#000" stroke="#000" stroke-width="0.32">16R</text>
<text transform="translate(128.60,576.00) rotate(111.00)" x="-9.58" y="5.85" font-size="17" textLength="19.17" lengthAdjust="spacingAndGlyphs" fill="#000" stroke="#000" stroke-width="0.32">10</text>
<text transform="translate(701.25,615.60) rotate(177.20)" x="-12.30" y="5.61" font-size="16.3" textLength="24.60" lengthAdjust="spacingAndGlyphs" fill="#000" stroke="#000" stroke-width="0.32">16L</text>
<text transform="translate(879.60,870.80) rotate(-126.30)" x="-8.55" y="5.61" font-size="16.3" textLength="17.10" lengthAdjust="spacingAndGlyphs" fill="#000" stroke="#000" stroke-width="0.32">22</text>
<text transform="translate(879.80,904.40) rotate(-66.50)" x="-8.55" y="5.61" font-size="16.3" textLength="17.10" lengthAdjust="spacingAndGlyphs" fill="#000" stroke="#000" stroke-width="0.32">28</text>
<text x="710.60" y="1054.50" font-size="16.3" textLength="27.10" lengthAdjust="spacingAndGlyphs" fill="#000" stroke="#000" stroke-width="0.32">34R</text>
<text transform="translate(448.10,214.50) rotate(85.00)" x="-24.55" y="5.61" font-size="16.3" textLength="49.10" lengthAdjust="spacingAndGlyphs" fill="#000" stroke="#000" stroke-width="0.32">169.4°</text>
<line x1="450.60" y1="242.50" x2="452.62" y2="268.76" stroke="#000" stroke-width="0.9"/>
<polygon points="453.00,273.75 450.75,267.91 454.34,267.63" fill="#000"/>
<text transform="translate(178.10,579.40) rotate(23.50)" x="-25.80" y="5.61" font-size="16.3" textLength="51.60" lengthAdjust="spacingAndGlyphs" fill="#000" stroke="#000" stroke-width="0.32">108.0°</text>
<line x1="205.60" y1="592.50" x2="228.42" y2="602.49" stroke="#000" stroke-width="0.9"/>
<polygon points="233.00,604.50 226.78,603.74 228.23,600.44" fill="#000"/>
<text transform="translate(519.50,630.60) rotate(85.00)" x="-41.30" y="5.61" font-size="16.3" textLength="82.60" lengthAdjust="spacingAndGlyphs" fill="#000" stroke="#000" stroke-width="0.32">9501 X 150</text>
<text transform="translate(398.75,677.50) rotate(23.50)" x="-44.30" y="5.61" font-size="16.3" textLength="88.60" lengthAdjust="spacingAndGlyphs" fill="#000" stroke="#000" stroke-width="0.32">8302 X 150</text>
<text transform="translate(691.25,677.00) rotate(87.20)" x="-26.30" y="5.61" font-size="16.3" textLength="52.60" lengthAdjust="spacingAndGlyphs" fill="#000" stroke="#000" stroke-width="0.32">171.6°</text>
<line x1="692.50" y1="703.75" x2="694.21" y2="733.76" stroke="#000" stroke-width="0.9"/>
<polygon points="694.50,738.75 692.36,732.86 695.95,732.66" fill="#000"/>
<text transform="translate(727.00,762.00) rotate(87.20)" x="-41.80" y="5.61" font-size="16.3" textLength="83.60" lengthAdjust="spacingAndGlyphs" fill="#000" stroke="#000" stroke-width="0.32">4247 X 100</text>
<text transform="translate(782.00,842.00) rotate(23.50)" x="-25.80" y="5.61" font-size="16.3" textLength="51.60" lengthAdjust="spacingAndGlyphs" fill="#000" stroke="#000" stroke-width="0.32">288.0°</text>
<line x1="755.00" y1="830.00" x2="734.58" y2="821.01" stroke="#000" stroke-width="0.9"/>
<polygon points="730.00,819.00 736.22,819.77 734.77,823.06" fill="#000"/>
<text transform="translate(827.60,924.50) rotate(-36.00)" x="-25.80" y="5.61" font-size="16.3" textLength="51.60" lengthAdjust="spacingAndGlyphs" fill="#000" stroke="#000" stroke-width="0.32">228.1°</text>
<line x1="808.40" y1="941.40" x2="784.29" y2="958.33" stroke="#000" stroke-width="0.9"/>
<polygon points="780.20,961.20 784.08,956.28 786.14,959.23" fill="#000"/>
<text transform="translate(735.00,938.00) rotate(87.20)" x="-29.30" y="5.61" font-size="16.3" textLength="58.60" lengthAdjust="spacingAndGlyphs" fill="#000" stroke="#000" stroke-width="0.32">0.4% UP</text>
<line x1="733.00" y1="904.00" x2="732.21" y2="885.00" stroke="#000" stroke-width="0.9"/>
<polygon points="732.00,880.00 734.05,885.92 730.45,886.07" fill="#000"/>
<text transform="translate(702.50,961.00) rotate(87.20)" x="-24.80" y="5.61" font-size="16.3" textLength="49.60" lengthAdjust="spacingAndGlyphs" fill="#000" stroke="#000" stroke-width="0.32">351.6°</text>
<line x1="702.00" y1="935.00" x2="700.99" y2="913.74" stroke="#000" stroke-width="0.9"/>
<polygon points="700.75,908.75 702.83,914.66 699.24,914.83" fill="#000"/>
<text transform="translate(519.00,1036.00) rotate(85.00)" x="-24.80" y="5.61" font-size="16.3" textLength="49.60" lengthAdjust="spacingAndGlyphs" fill="#000" stroke="#000" stroke-width="0.32">349.4°</text>
<line x1="517.00" y1="1008.00" x2="514.71" y2="970.99" stroke="#000" stroke-width="0.9"/>
<polygon points="514.40,966.00 516.57,971.88 512.97,972.10" fill="#000"/>
<text transform="translate(643.75,1030.00) rotate(-36.00)" x="-36.80" y="5.61" font-size="16.3" textLength="73.60" lengthAdjust="spacingAndGlyphs" fill="#000" stroke="#000" stroke-width="0.32">4605 X 75</text>
<text transform="translate(582.50,1105.00) rotate(-36.30)" x="-25.80" y="5.61" font-size="16.3" textLength="51.60" lengthAdjust="spacingAndGlyphs" fill="#000" stroke="#000" stroke-width="0.32">048.1°</text>
<line x1="606.25" y1="1089.50" x2="627.12" y2="1075.31" stroke="#000" stroke-width="0.9"/>
<polygon points="631.25,1072.50 627.30,1077.36 625.28,1074.39" fill="#000"/>
<text transform="translate(414.00,299.00) rotate(85.00)" x="-5.30" y="5.61" font-size="16.3" textLength="10.60" lengthAdjust="spacingAndGlyphs" fill="#000" stroke="#000" stroke-width="0.32" filter="url(#h2)">P</text>
<text transform="translate(433.75,586.90) rotate(85.00)" x="-5.30" y="5.61" font-size="16.3" textLength="10.60" lengthAdjust="spacingAndGlyphs" fill="#000" stroke="#000" stroke-width="0.32" filter="url(#h2)">P</text>
<text transform="translate(457.00,825.00) rotate(85.00)" x="-5.30" y="5.61" font-size="16.3" textLength="10.60" lengthAdjust="spacingAndGlyphs" fill="#000" stroke="#000" stroke-width="0.32">P</text>
<text transform="translate(480.00,1027.00) rotate(85.00)" x="-5.30" y="5.61" font-size="16.3" textLength="10.60" lengthAdjust="spacingAndGlyphs" fill="#000" stroke="#000" stroke-width="0.32">P</text>
<line transform="translate(450.00,423.90) rotate(-5.00)" x1="-6.75" y1="9.41" x2="6.75" y2="9.41" stroke="#000" stroke-width="1"/>
<text transform="translate(450.00,423.90) rotate(-5.00)" x="-7.05" y="5.61" font-size="16.3" textLength="14.10" lengthAdjust="spacingAndGlyphs" fill="#000" stroke="#000" stroke-width="0.32" filter="url(#h2)">M</text>
<text transform="translate(453.75,482.25) rotate(85.00)" x="-5.30" y="5.61" font-size="16.3" textLength="10.60" lengthAdjust="spacingAndGlyphs" fill="#000" stroke="#000" stroke-width="0.32" filter="url(#h2)">B</text>
<text transform="translate(467.50,632.00) rotate(85.00)" x="-5.30" y="5.61" font-size="16.3" textLength="10.60" lengthAdjust="spacingAndGlyphs" fill="#000" stroke="#000" stroke-width="0.32" filter="url(#h2)">B</text>
<text transform="translate(471.50,526.90) rotate(-38.00)" x="-5.05" y="5.61" font-size="16.3" textLength="10.10" lengthAdjust="spacingAndGlyphs" fill="#000" stroke="#000" stroke-width="0.32" filter="url(#h2)">F</text>
<text transform="translate(185.00,650.60) rotate(23.50)" x="-6.30" y="5.61" font-size="16.3" textLength="12.60" lengthAdjust="spacingAndGlyphs" fill="#000" stroke="#000" stroke-width="0.32" filter="url(#h2)">A</text>
<text transform="translate(367.00,730.00) rotate(23.50)" x="-6.30" y="5.61" font-size="16.3" textLength="12.60" lengthAdjust="spacingAndGlyphs" fill="#000" stroke="#000" stroke-width="0.32" filter="url(#h2)">A</text>
<text transform="translate(183.00,723.75) rotate(-60.00)" x="-5.80" y="5.61" font-size="16.3" textLength="11.60" lengthAdjust="spacingAndGlyphs" fill="#000" stroke="#000" stroke-width="0.32" filter="url(#h2)">V</text>
<text transform="translate(273.75,703.10) rotate(-66.50)" x="-5.80" y="5.61" font-size="16.3" textLength="11.60" lengthAdjust="spacingAndGlyphs" fill="#000" stroke="#000" stroke-width="0.32" filter="url(#h2)">U</text>
<text transform="translate(262.50,726.90) rotate(-66.50)" x="-5.80" y="5.61" font-size="16.3" textLength="11.60" lengthAdjust="spacingAndGlyphs" fill="#000" stroke="#000" stroke-width="0.32">U</text>
<text transform="translate(333.75,691.90) rotate(-66.50)" x="-5.05" y="5.61" font-size="16.3" textLength="10.10" lengthAdjust="spacingAndGlyphs" fill="#000" stroke="#000" stroke-width="0.32" filter="url(#h2)">E</text>
<text transform="translate(315.60,747.50) rotate(-66.50)" x="-5.05" y="5.61" font-size="16.3" textLength="10.10" lengthAdjust="spacingAndGlyphs" fill="#000" stroke="#000" stroke-width="0.32">E</text>
<text transform="translate(493.70,861.00) rotate(-57.00)" x="-6.05" y="5.61" font-size="16.3" textLength="12.10" lengthAdjust="spacingAndGlyphs" fill="#000" stroke="#000" stroke-width="0.32" filter="url(#h2)">H</text>
<text transform="translate(496.00,911.00) rotate(0.00)" x="-6.05" y="5.61" font-size="16.3" textLength="12.10" lengthAdjust="spacingAndGlyphs" fill="#000" stroke="#000" stroke-width="0.32" filter="url(#h2)">C</text>
<text transform="translate(589.00,910.00) rotate(0.00)" x="-6.05" y="5.61" font-size="16.3" textLength="12.10" lengthAdjust="spacingAndGlyphs" fill="#000" stroke="#000" stroke-width="0.32" filter="url(#h2)">C</text>
<text transform="translate(673.00,910.00) rotate(0.00)" x="-6.05" y="5.61" font-size="16.3" textLength="12.10" lengthAdjust="spacingAndGlyphs" fill="#000" stroke="#000" stroke-width="0.32" filter="url(#h2)">C</text>
<text transform="translate(771.00,903.00) rotate(-28.00)" x="-6.05" y="5.61" font-size="16.3" textLength="12.10" lengthAdjust="spacingAndGlyphs" fill="#000" stroke="#000" stroke-width="0.32" filter="url(#h2)">C</text>
<line transform="translate(639.00,719.00) rotate(87.20)" x1="-5.00" y1="9.41" x2="5.00" y2="9.41" stroke="#000" stroke-width="1"/>
<text transform="translate(639.00,719.00) rotate(87.20)" x="-5.30" y="5.61" font-size="16.3" textLength="10.60" lengthAdjust="spacingAndGlyphs" fill="#000" stroke="#000" stroke-width="0.32" filter="url(#h2)">Z</text>
<line transform="translate(645.00,858.40) rotate(87.20)" x1="-5.00" y1="9.41" x2="5.00" y2="9.41" stroke="#000" stroke-width="1"/>
<text transform="translate(645.00,858.40) rotate(87.20)" x="-5.30" y="5.61" font-size="16.3" textLength="10.60" lengthAdjust="spacingAndGlyphs" fill="#000" stroke="#000" stroke-width="0.32" filter="url(#h2)">Z</text>
<line transform="translate(809.00,960.60) rotate(-33.00)" x1="-7.50" y1="9.41" x2="7.50" y2="9.41" stroke="#000" stroke-width="1"/>
<text transform="translate(809.00,960.60) rotate(-33.00)" x="-7.80" y="5.61" font-size="16.3" textLength="15.60" lengthAdjust="spacingAndGlyphs" fill="#000" stroke="#000" stroke-width="0.32" filter="url(#h2)">W</text>
<line transform="translate(742.00,1030.50) rotate(-15.00)" x1="-7.25" y1="9.41" x2="7.25" y2="9.41" stroke="#000" stroke-width="1"/>
<text transform="translate(742.00,1030.50) rotate(-15.00)" x="-7.55" y="5.61" font-size="16.3" textLength="15.10" lengthAdjust="spacingAndGlyphs" fill="#000" stroke="#000" stroke-width="0.32" filter="url(#h2)">W</text>
<text x="503.60" y="1085.50" font-size="16.3" textLength="11.35" lengthAdjust="spacingAndGlyphs" fill="#000" stroke="#000" stroke-width="0.32" filter="url(#h3)">D</text>
<text transform="translate(496.80,1115.60) rotate(35.00)" x="-4.55" y="5.61" font-size="16.3" textLength="9.10" lengthAdjust="spacingAndGlyphs" fill="#000" stroke="#000" stroke-width="0.32" filter="url(#h2)">L</text>
<text transform="translate(353.60,1089.00) rotate(-15.00)" x="-5.30" y="5.61" font-size="16.3" textLength="10.60" lengthAdjust="spacingAndGlyphs" fill="#000" stroke="#000" stroke-width="0.32" filter="url(#h2)">S</text>
<text transform="translate(300.00,304.00) rotate(-72.90)" x="-34.71" y="4.99" font-size="14.5" textLength="69.42" lengthAdjust="spacingAndGlyphs" fill="#000" stroke="#000" stroke-width="0.32">VAR 5.6° E</text>
<line x1="267.00" y1="222.00" x2="267.00" y2="379.50" stroke="#000" stroke-width="1"/>
<polygon points="267.00,197.50 272.60,212.50 267.00,223.00 261.40,212.50" fill="#000"/>
<line x1="267.00" y1="379.50" x2="312.50" y2="231.00" stroke="#000" stroke-width="1"/>
<polygon points="318.75,211.25 318.20,233.50 311.80,229.50" fill="#000"/>
<line x1="362.50" y1="175.00" x2="387.84" y2="198.59" stroke="#000" stroke-width="0.9"/>
<polygon points="391.50,202.00 385.88,199.23 388.34,196.59" fill="#000"/>
<line x1="500.60" y1="152.25" x2="477.79" y2="165.93" stroke="#000" stroke-width="0.9"/>
<polygon points="473.50,168.50 477.72,163.87 479.57,166.96" fill="#000"/>
<line x1="96.25" y1="638.00" x2="134.52" y2="641.72" stroke="#000" stroke-width="0.9"/>
<polygon points="139.50,642.20 133.35,643.41 133.70,639.83" fill="#000"/>
<line x1="94.40" y1="761.90" x2="104.36" y2="722.94" stroke="#000" stroke-width="0.9"/>
<polygon points="105.60,718.10 105.86,724.36 102.37,723.47" fill="#000"/>
<line x1="210.50" y1="806.00" x2="225.32" y2="775.50" stroke="#000" stroke-width="0.9"/>
<polygon points="227.50,771.00 226.50,777.18 223.26,775.61" fill="#000"/>
<line x1="210.50" y1="806.00" x2="205.40" y2="793.62" stroke="#000" stroke-width="0.9"/>
<polygon points="203.50,789.00 207.45,793.86 204.12,795.23" fill="#000"/>
<line x1="197.50" y1="843.00" x2="235.00" y2="802.50" stroke="#000" stroke-width="0.9"/>
<line x1="235.00" y1="802.50" x2="239.03" y2="802.05" stroke="#000" stroke-width="0.9"/>
<polygon points="244.00,801.50 238.24,803.95 237.84,800.37" fill="#000"/>
<line x1="205.00" y1="872.50" x2="257.48" y2="819.55" stroke="#000" stroke-width="0.9"/>
<polygon points="261.00,816.00 258.05,821.53 255.50,818.99" fill="#000"/>
<line x1="255.00" y1="921.50" x2="399.90" y2="820.36" stroke="#000" stroke-width="0.9"/>
<polygon points="404.00,817.50 400.11,822.41 398.05,819.46" fill="#000"/>
<line x1="356.25" y1="886.25" x2="369.95" y2="874.50" stroke="#000" stroke-width="0.9"/>
<polygon points="373.75,871.25 370.37,876.52 368.02,873.79" fill="#000"/>
<line x1="403.00" y1="777.00" x2="389.08" y2="807.45" stroke="#000" stroke-width="0.9"/>
<polygon points="387.00,812.00 387.86,805.79 391.13,807.29" fill="#000"/>
<line x1="387.00" y1="1004.00" x2="457.47" y2="971.11" stroke="#000" stroke-width="0.9"/>
<polygon points="462.00,969.00 457.32,973.17 455.80,969.91" fill="#000"/>
<line x1="355.00" y1="1043.70" x2="417.00" y2="1043.24" stroke="#000" stroke-width="0.9"/>
<polygon points="422.00,1043.20 416.01,1045.04 415.99,1041.44" fill="#000"/>
<line x1="288.75" y1="1095.00" x2="317.51" y2="1093.30" stroke="#000" stroke-width="0.9"/>
<polygon points="322.50,1093.00 316.62,1095.15 316.40,1091.56" fill="#000"/>
<line x1="311.25" y1="1138.75" x2="322.76" y2="1115.72" stroke="#000" stroke-width="0.9"/>
<polygon points="325.00,1111.25 323.93,1117.42 320.71,1115.81" fill="#000"/>
<line x1="336.25" y1="1155.00" x2="365.10" y2="1160.77" stroke="#000" stroke-width="0.9"/>
<polygon points="370.00,1161.75 363.76,1162.34 364.47,1158.81" fill="#000"/>
<line x1="581.75" y1="1138.75" x2="558.70" y2="1130.40" stroke="#000" stroke-width="0.9"/>
<polygon points="554.00,1128.70 560.25,1129.05 559.03,1132.44" fill="#000"/>
<line x1="812.00" y1="1051.50" x2="791.05" y2="1019.68" stroke="#000" stroke-width="0.9"/>
<polygon points="788.30,1015.50 793.10,1019.52 790.10,1021.50" fill="#000"/>
<text x="70.35" y="778.00" font-size="16.3" textLength="40.85" lengthAdjust="spacingAndGlyphs" fill="#000" stroke="#000" stroke-width="0.32" filter="url(#h3)">WEST</text>
<text x="52.85" y="797.50" font-size="16.3" textLength="76.60" lengthAdjust="spacingAndGlyphs" fill="#000" stroke="#000" stroke-width="0.32" filter="url(#h3)">EXECUTIVE</text>
<text x="69.85" y="818.00" font-size="16.3" textLength="40.85" lengthAdjust="spacingAndGlyphs" fill="#000" stroke="#000" stroke-width="0.32" filter="url(#h3)">RAMP</text>
<text x="153.50" y="743.40" font-size="16.3" textLength="29.10" lengthAdjust="spacingAndGlyphs" fill="#000" stroke="#000" stroke-width="0.32" filter="url(#h3)">CAF</text>
<text x="147.10" y="762.50" font-size="16.3" textLength="41.60" lengthAdjust="spacingAndGlyphs" fill="#000" stroke="#000" stroke-width="0.32" filter="url(#h3)">RAMP</text>
<text x="136.60" y="820.30" font-size="16.3" textLength="75.35" lengthAdjust="spacingAndGlyphs" fill="#000" stroke="#000" stroke-width="0.32" filter="url(#h3)">HANGARS</text>
<text x="84.10" y="853.25" font-size="16.3" textLength="111.60" lengthAdjust="spacingAndGlyphs" fill="#000" stroke="#000" stroke-width="0.32" filter="url(#h3)">MAINTENANCE</text>
<text x="81.60" y="881.75" font-size="16.3" textLength="122.85" lengthAdjust="spacingAndGlyphs" fill="#000" stroke="#000" stroke-width="0.32" filter="url(#h3)">EXECUTIVE RAMP</text>
<text x="172.35" y="919.25" font-size="16.3" textLength="53.35" lengthAdjust="spacingAndGlyphs" fill="#000" stroke="#000" stroke-width="0.32">NORTH</text>
<text x="131.60" y="939.25" font-size="16.3" textLength="135.35" lengthAdjust="spacingAndGlyphs" fill="#000" stroke="#000" stroke-width="0.32">RAMP/ TRANSIENT</text>
<text x="165.85" y="959.25" font-size="16.3" textLength="66.10" lengthAdjust="spacingAndGlyphs" fill="#000" stroke="#000" stroke-width="0.32">PARKING</text>
<text x="284.10" y="960.00" font-size="16.3" textLength="36.60" lengthAdjust="spacingAndGlyphs" fill="#000" stroke="#000" stroke-width="0.32">3025</text>
<text x="327.85" y="832.50" font-size="16.3" textLength="31.60" lengthAdjust="spacingAndGlyphs" fill="#000" stroke="#000" stroke-width="0.32" filter="url(#h3)">TWR</text>
<text x="322.85" y="889.50" font-size="16.3" textLength="29.85" lengthAdjust="spacingAndGlyphs" fill="#000" stroke="#000" stroke-width="0.32">FBO</text>
<text x="316.60" y="918.75" font-size="16.3" textLength="57.10" lengthAdjust="spacingAndGlyphs" fill="#000" stroke="#000" stroke-width="0.32">ADMIN/</text>
<text x="310.35" y="937.50" font-size="16.3" textLength="70.85" lengthAdjust="spacingAndGlyphs" fill="#000" stroke="#000" stroke-width="0.32">TERMINAL</text>
<text x="294.85" y="1000.75" font-size="16.3" textLength="87.60" lengthAdjust="spacingAndGlyphs" fill="#000" stroke="#000" stroke-width="0.32">AIR CARRIER</text>
<text x="297.35" y="1020.00" font-size="16.3" textLength="84.60" lengthAdjust="spacingAndGlyphs" fill="#000" stroke="#000" stroke-width="0.32">RAMP/SIDA</text>
<text x="255.60" y="1052.50" font-size="16.3" textLength="96.60" lengthAdjust="spacingAndGlyphs" fill="#000" stroke="#000" stroke-width="0.32">SOUTH RAMP</text>
<text x="394.10" y="752.40" font-size="16.3" textLength="28.60" lengthAdjust="spacingAndGlyphs" fill="#000" stroke="#000" stroke-width="0.32" filter="url(#h3)">FIRE</text>
<text x="377.10" y="771.60" font-size="16.3" textLength="62.60" lengthAdjust="spacingAndGlyphs" fill="#000" stroke="#000" stroke-width="0.32" filter="url(#h3)">STATION</text>
<polygon points="302.30,933.90 304.24,937.63 308.39,938.32 305.44,941.32 306.06,945.48 302.30,943.60 298.54,945.48 299.16,941.32 296.21,938.32 300.36,937.63" fill="#000"/><circle cx="302.3" cy="940.5" r="2.3" fill="#fff"/>
<path d="M816.0,869.0 C808.2,860.0 813.6,845.6 822.0,844.4 C829.8,843.4 826.2,860.0 813.0,867.2" fill="none" stroke="#000" stroke-width="1"/>
<path d="M804.0,881.6 C812.4,890.0 806.4,903.2 798.0,905.6 C790.2,907.0 794.4,890.0 807.0,882.8" fill="none" stroke="#000" stroke-width="1"/>
</g>
<g id="hs" fill="none" stroke="#99580f">
<ellipse cx="449" cy="741.6" rx="17.2" ry="14" transform="rotate(15 449 741.6)" stroke-width="1.9"/>
<line x1="458.00" y1="755.50" x2="464.00" y2="778.00" stroke="#99580f" stroke-width="1.9"/>
<rect x="440.1" y="779.7" width="47.3" height="25.7" fill="#fff" stroke-width="5.2"/>
<ellipse cx="451.7" cy="1069.3" rx="93.5" ry="30" transform="rotate(58.5 451.7 1069.3)" stroke-width="1.9"/>
<line x1="459.00" y1="1128.00" x2="417.00" y2="1194.00" stroke="#99580f" stroke-width="1.9"/>
<rect x="393" y="1196.6" width="47" height="24.4" fill="#fff" stroke-width="5.2"/>
</g>
<text x="448.56" y="799.00" font-size="17" textLength="32.67" lengthAdjust="spacingAndGlyphs" fill="#99580f" stroke="#99580f" stroke-width="0.32">HS 1</text>
<text x="400.56" y="1215.00" font-size="17" textLength="33.67" lengthAdjust="spacingAndGlyphs" fill="#99580f" stroke="#99580f" stroke-width="0.32">HS 2</text>
<text transform="translate(506.40,1147.40) rotate(53.70)" x="-4.70" y="5.61" font-size="16.3" textLength="9.40" lengthAdjust="spacingAndGlyphs" fill="#000" stroke="#000" stroke-width="0.32" filter="url(#h2)">4</text>
</svg>
</body></html>
